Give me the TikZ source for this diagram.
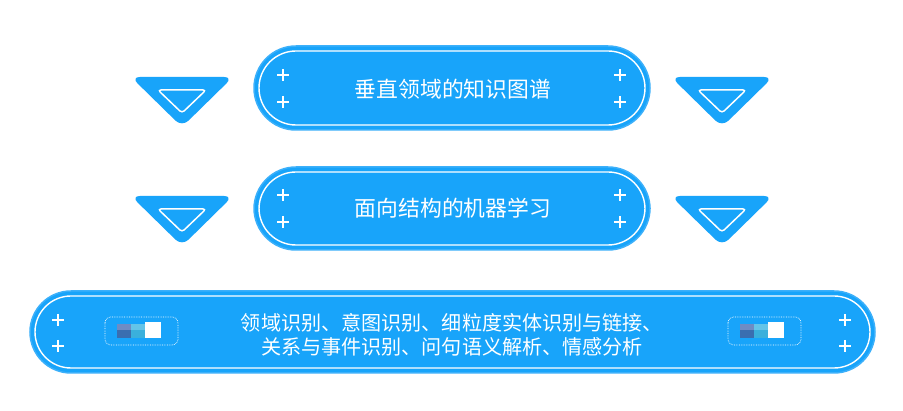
\documentclass[tikz,border=0pt]{standalone}
\usepackage{fontspec}
\setmainfont{Noto Sans CJK SC}
\definecolor{mainblue}{RGB}{24,164,250}
\definecolor{ringblue}{RGB}{60,176,250}
\definecolor{sqdark}{RGB}{58,110,176}
\definecolor{sqdarkt}{RGB}{110,140,196}
\definecolor{sqcyan}{RGB}{58,176,220}
\definecolor{sqcyant}{RGB}{100,196,232}
\begin{document}
\begin{tikzpicture}[x=1pt,y=-1pt,
  pillbox/.style={fill=mainblue,draw=ringblue,line width=1.5pt},
  innerring/.style={draw=white,line width=1.4pt},
  plusmark/.style={draw=white,line width=1.3pt},
  tri/.style={fill=mainblue,rounded corners=9pt},
  tring/.style={draw=white,line width=1.5pt,rounded corners=3pt},
  lbl/.style={text=white,font=\fontsize{21.8}{26}\selectfont,align=center},
  lblsmall/.style={text=white,font=\fontsize{20.1}{24}\selectfont,align=center},
  dotpill/.style={draw=white,densely dotted,line width=0.7pt,rounded corners=6pt}]
\useasboundingbox (0,0) rectangle (903,411);
\fill[white] (0,0) rectangle (903,411);

\tikzset{pluspic/.pic={\draw[plusmark] (-6,0) -- (6,0) (0,-6) -- (0,6);}}

% ---- Box 1
\draw[pillbox,rounded corners=42pt] (254,46) rectangle (650,130);
\draw[innerring,rounded corners=37pt] (259,51) rectangle (645,125);
\node[lbl] (b1) at (453,89) {垂直领域的知识图谱};
\pic at (283,75) {pluspic}; \pic at (283,102) {pluspic};
\pic at (620,75) {pluspic}; \pic at (620,102) {pluspic};

% ---- Box 2
\draw[pillbox,rounded corners=42pt] (254,167) rectangle (650,250);
\draw[innerring,rounded corners=37pt] (259,172) rectangle (645,245);
\node[lbl] (b2) at (453,208) {面向结构的机器学习};
\pic at (283,195) {pluspic}; \pic at (283,222) {pluspic};
\pic at (620,195) {pluspic}; \pic at (620,222) {pluspic};

% ---- Box 3
\draw[pillbox,rounded corners=41pt] (30,291) rectangle (875,373);
\draw[innerring,rounded corners=36pt] (35,296) rectangle (870,368);
\node[lblsmall] (b3) at (452,335) {领域识别、意图识别、细粒度实体识别与链接、\\关系与事件识别、问句语义解析、情感分析};
\pic at (58,320) {pluspic}; \pic at (58,346) {pluspic};
\pic at (845,320) {pluspic}; \pic at (845,346) {pluspic};

% icons
\foreach \ox in {0,623}{
  \draw[dotpill] (105+\ox,317) rectangle (178+\ox,345);
  \fill[sqdark] (117+\ox,324) rectangle (131+\ox,338);
  \fill[sqdarkt] (117+\ox,324) rectangle (131+\ox,330);
  \fill[sqcyan] (131+\ox,324) rectangle (145+\ox,338);
  \fill[sqcyant] (131+\ox,324) rectangle (145+\ox,330);
  \fill[white] (145+\ox,322) rectangle (161+\ox,338);
}

% ---- Triangles
\foreach \cx/\ty in {182/77,722/77,182/196,722/196}{
  \fill[tri] (\cx-51,\ty) -- (\cx+51,\ty) -- (\cx,\ty+50) -- cycle;
  \draw[tring] (\cx-24,\ty+13) -- (\cx+24,\ty+13) -- (\cx,\ty+36) -- cycle;
}
\end{tikzpicture}
\end{document}
